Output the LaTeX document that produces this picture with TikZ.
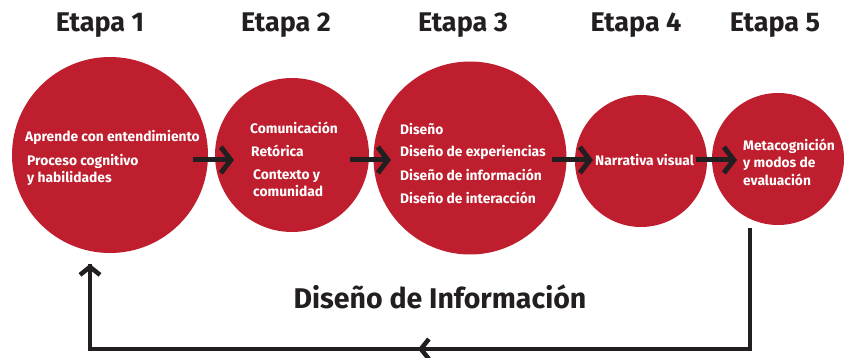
\documentclass[tikz,border=0pt]{standalone}
\usepackage{fontspec}
\setmainfont{Fira Sans}
\usetikzlibrary{arrows.meta}
\definecolor{cred}{HTML}{BE1E2D}
\definecolor{cblack}{HTML}{231F20}
\begin{document}
\begin{tikzpicture}[x=1pt,y=-1pt,
  disc/.style={circle,fill=cred,inner sep=0pt},
  etapa/.style={font=\fontsize{27}{30}\selectfont\bfseries,text=cblack},
  itm/.style={font=\fontsize{13.8}{17.5}\selectfont\bfseries,text=white,anchor=west,align=left,inner sep=0pt},
  flow/.style={draw=cblack,line width=5pt,-{Straight Barb[length=10pt,width=26pt,line width=5pt]}},
  back/.style={draw=cblack,line width=4.5pt}
]
\useasboundingbox (0,0) rectangle (844,358);
% circles
\node[disc,minimum size=196pt] (c1) at (110,155) {};
\node[disc,minimum size=154pt] (c2) at (292,155) {};
\node[disc,minimum size=193pt] (c3) at (470,158) {};
\node[disc,minimum size=132pt] (c4) at (641,161) {};
\node[disc,minimum size=132pt] (c5) at (778,159) {};
% stage titles
\node[etapa] (e1) at (100,25) {Etapa 1};
\node[etapa] (e2) at (286,25) {Etapa 2};
\node[etapa] (e3) at (463,25) {Etapa 3};
\node[etapa] (e4) at (636,25) {Etapa 4};
\node[etapa] (e5) at (775,25) {Etapa 5};
% circle texts
\node[itm] (t11) at (25,137) {Aprende con entendimiento};
\node[itm] (t12) at (27,170) {Proceso cognitivo\\y habilidades};
\node[itm] (t21) at (250,128) {Comunicación};
\node[itm] (t22) at (251,151) {Retórica};
\node[itm] (t23) at (253,183) {Contexto y\\comunidad};
\node[itm] (t31) at (400,129) {Diseño};
\node[itm] (t32) at (400,152) {Diseño de experiencias};
\node[itm] (t33) at (400,175) {Diseño de información};
\node[itm] (t34) at (400,198) {Diseño de interacción};
\node[itm] (t41) at (595,160) {Narrativa visual};
\node[itm] (t51) at (743,162) {Metacognición\\y modos de\\evaluación};
% flow arrows
\coordinate (a1s) at (193,160); \coordinate (a1e) at (234,160);
\coordinate (a2s) at (350,160); \coordinate (a2e) at (391,160);
\coordinate (a3s) at (552,160); \coordinate (a3e) at (593,160);
\coordinate (a4s) at (696,160); \coordinate (a4e) at (737,160);
\draw[flow] (a1s) -- (a1e);
\draw[flow] (a2s) -- (a2e);
\draw[flow] (a3s) -- (a3e);
\draw[flow] (a4s) -- (a4e);
% feedback loop
\coordinate (r0) at (750,228);
\coordinate (r1) at (750,349);
\coordinate (m) at (418,349);
\coordinate (l1) at (90,349);
\coordinate (l0) at (90,264);
\draw[back,line join=miter] (r0) -- (r1) -- (l1) -- (l0);
\draw[back,-{Straight Barb[length=8pt,width=20pt,line width=4.5pt]}] (r1) -- (m);
\draw[back,-{Straight Barb[length=8pt,width=20pt,line width=4.5pt]}] (l1) -- (l0);
\node[font=\fontsize{28.5}{32}\selectfont\bfseries,text=cblack] (lbl) at (440,297) {Diseño de Información};
\end{tikzpicture}
\end{document}
